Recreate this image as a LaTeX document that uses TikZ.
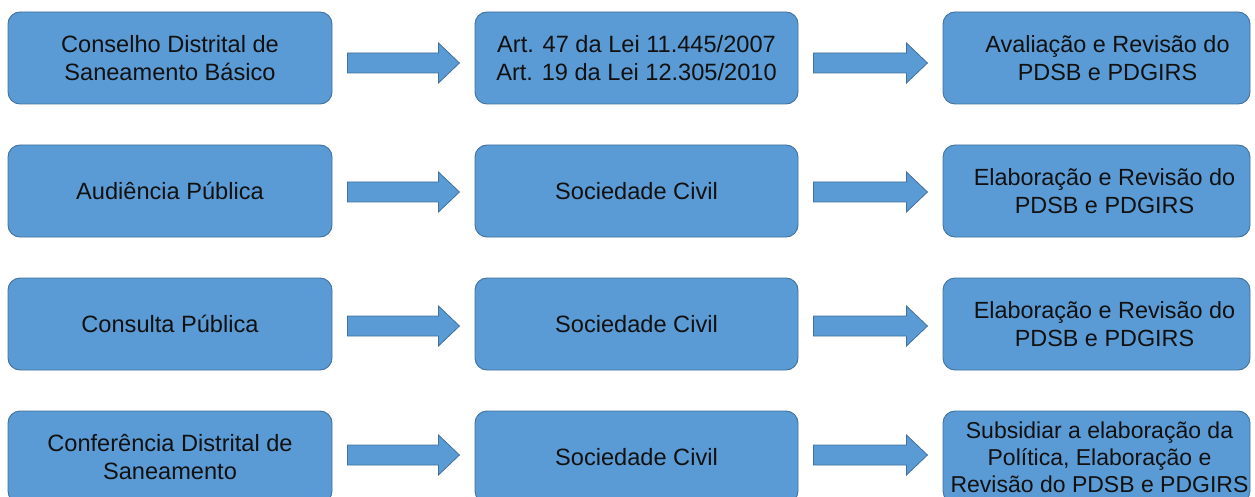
\documentclass[tikz,border=0pt]{standalone}
\usepackage{fontspec}
\setmainfont{Liberation Sans}
\usetikzlibrary{calc}
\definecolor{boxfill}{HTML}{5B9BD5}
\definecolor{boxline}{HTML}{41719C}
\definecolor{txt}{HTML}{111111}
\tikzset{
  box/.style={draw=boxline, fill=boxfill, line width=0.9pt, rounded corners=12pt,
    minimum height=92pt, inner sep=0pt, align=center, text=txt,
    font=\fontsize{23.6}{28}\selectfont},
  leftbox/.style={box, minimum width=324pt},
  midbox/.style={box, minimum width=323pt},
  rightbox/.style={box, minimum width=307pt},
  label/.style={inner sep=0pt, align=center, text=txt, font=\fontsize{23.4}{28}\selectfont},
  arr/.style={draw=boxline, fill=boxfill, line width=0.8pt}
}
\begin{document}
\begin{tikzpicture}[x=1pt,y=-1pt]
\useasboundingbox (0,0) rectangle (1255,497);
% row 1
\node[leftbox]  (a1) at (170,58)    {Conselho Distrital de\\Saneamento Básico};
\node[midbox]   (b1) at (636.5,58)  {Art. 47 da Lei 11.445/2007\\Art. 19 da Lei 12.305/2010};
\node[rightbox] (c1) at (1096.5,58) {};
\node[label] (c1t) at ($(c1)+(11,0)$) {Avaliação e Revisão do\\PDSB e PDGIRS};
% row 2
\node[leftbox]  (a2) at (170,191)    {Audiência Pública};
\node[midbox]   (b2) at (636.5,191)  {Sociedade Civil};
\node[rightbox] (c2) at (1096.5,191) {};
\node[label] (c2t) at ($(c2)+(8,0)$) {Elaboração e Revisão do\\PDSB e PDGIRS};
% row 3
\node[leftbox]  (a3) at (170,324)    {Consulta Pública};
\node[midbox]   (b3) at (636.5,324)  {Sociedade Civil};
\node[rightbox] (c3) at (1096.5,324) {};
\node[label] (c3t) at ($(c3)+(8,0)$) {Elaboração e Revisão do\\PDSB e PDGIRS};
% row 4
\node[leftbox]  (a4) at (170,457)    {Conferência Distrital de\\Saneamento};
\node[midbox]   (b4) at (636.5,457)  {Sociedade Civil};
\node[rightbox] (c4) at (1096.5,457) {};
\node[label, font=\fontsize{23}{27}\selectfont] (c4t) at ($(c4)+(3,0)$) {Subsidiar a elaboração da\\Política, Elaboração e\\Revisão do PDSB e PDGIRS};
% arrows
\foreach \r/\dy in {1/5, 2/1, 3/2, 4/-2}{
  \draw[arr] ($(a\r.east)+(15,\dy-10)$) -- ++(91,0) -- ++(0,-10) -- ++(21,20) -- ++(-21,20) -- ++(0,-10) -- ++(-91,0) -- cycle;
  \draw[arr] ($(b\r.east)+(15,\dy-10)$) -- ++(93,0) -- ++(0,-10) -- ++(21,20) -- ++(-21,20) -- ++(0,-10) -- ++(-93,0) -- cycle;
}
\end{tikzpicture}
\end{document}
